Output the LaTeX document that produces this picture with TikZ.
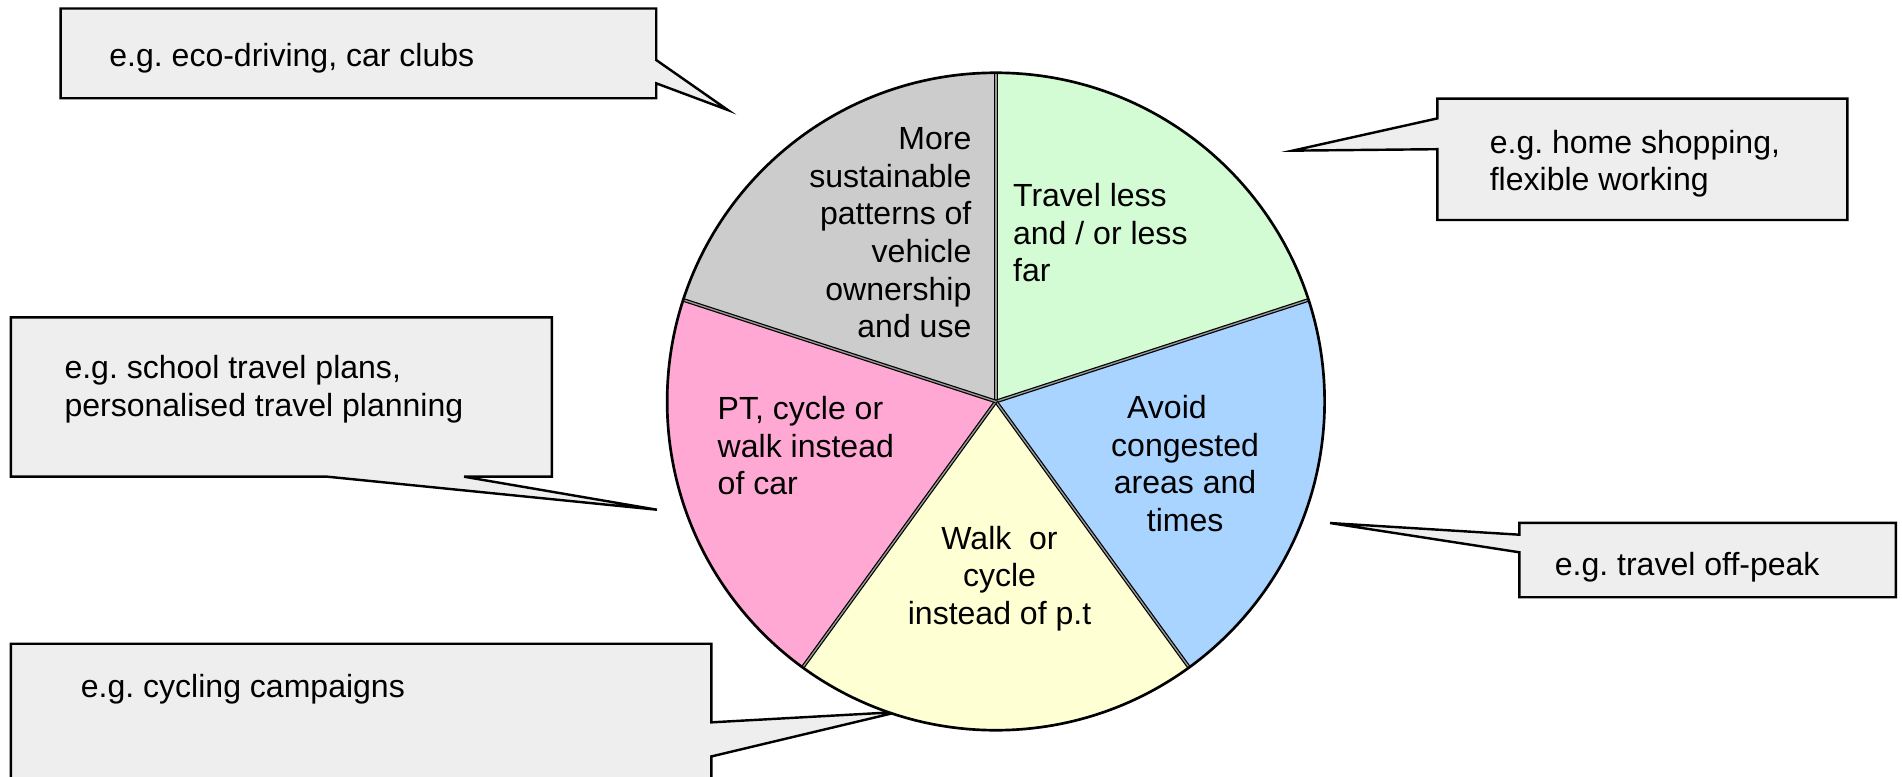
\documentclass[tikz,border=0pt]{standalone}
\usepackage{fontspec}
\setmainfont{Liberation Sans}
\frenchspacing
\definecolor{boxfill}{HTML}{EEEEEE}
\definecolor{sgray}{HTML}{CCCCCC}
\definecolor{sgreen}{HTML}{D4FCD4}
\definecolor{sblue}{HTML}{A8D4FF}
\definecolor{syellow}{HTML}{FFFFD4}
\definecolor{spink}{HTML}{FFA8D4}
\tikzset{
  callout/.style={draw=black, fill=boxfill, line width=2pt, line join=miter},
  txt/.style={inner sep=0pt, font=\fontsize{26.4}{31}\selectfont},
  divider/.style={line width=1pt, draw=black, double=black!40, double distance=1.1pt},
  rim/.style={draw=black, line width=2.2pt}
}
\begin{document}
\begin{tikzpicture}[x=1pt,y=1pt]
\frenchspacing
\useasboundingbox (0,0) rectangle (1568,640);
\begin{scope}
\clip (0,0) rectangle (1568,640);
% callout boxes
\draw[callout] (50,633) -- (541,633) -- (541,590.5) -- (600,549.3) -- (541,571.3) -- (541,559) -- (50,559) -- cycle;
\draw[callout] (1185,558.7) -- (1523,558.7) -- (1523,458.6) -- (1185,458.6) -- (1185,517) -- (1065.6,515.8) -- (1185,542.4) -- cycle;
\draw[callout] (9,378.3) -- (455,378.3) -- (455,247) -- (382.6,247) -- (541.5,219.8) -- (270,247) -- (9,247) -- cycle;
\draw[callout] (9,109.3) -- (586.5,109.3) -- (586.5,44.5) -- (740,53) -- (586.5,16.4) -- (586.5,-20) -- (9,-20) -- cycle;
\draw[callout] (1252.5,209) -- (1563,209) -- (1563,147.6) -- (1252.5,147.6) -- (1252.5,184.7) -- (1096.5,208.8) -- (1252.5,199.2) -- cycle;
\end{scope}
% pie
\coordinate (c) at (821,309);
\begin{scope}[shift={(c)}]
\fill[sgray]   (0,0) -- (90:271)  arc[start angle=90,  end angle=162, radius=271] -- cycle;
\fill[sgreen]  (0,0) -- (18:271)  arc[start angle=18,  end angle=90,  radius=271] -- cycle;
\fill[sblue]   (0,0) -- (-54:271) arc[start angle=-54, end angle=18,  radius=271] -- cycle;
\fill[syellow] (0,0) -- (-126:271) arc[start angle=-126, end angle=-54, radius=271] -- cycle;
\fill[spink]   (0,0) -- (162:271) arc[start angle=162, end angle=234, radius=271] -- cycle;
\coordinate (p90) at (90:271);
\coordinate (p18) at (18:271);
\coordinate (pm54) at (-54:271);
\coordinate (pm126) at (-126:271);
\coordinate (p162) at (162:271);
\end{scope}
\draw[divider] (c) -- (p90);
\draw[divider] (c) -- (p18);
\draw[divider] (c) -- (pm54);
\draw[divider] (c) -- (pm126);
\draw[divider] (c) -- (p162);
\draw[rim] (c) circle[radius=271];
% pie texts
\node[txt, anchor=east, align=right] (tgray) at (801,448) {More\\sustainable\\patterns of\\vehicle\\ownership\\and use};
\node[txt, anchor=west, align=left] (tgreen) at (835,448) {Travel less\\and / or less\\far};
\node[txt, align=center] (tblue) at (977,258) {Avoid\hspace*{30pt}\\congested\\areas and\\times};
\node[txt, align=center] (tyellow) at (824,163) {Walk\ \ or\\cycle\\instead of p.t};
\node[txt, anchor=west, align=left] (tpink) at (591.5,272.5) {PT, cycle or\\walk instead\\of car};
% callout texts
\node[txt, anchor=west] (t1) at (90,592) {e.g. eco-driving, car clubs};
\node[txt, anchor=west, align=left] (t2) at (1228,505) {e.g. home shopping,\\flexible working};
\node[txt, anchor=west, align=left] (t3) at (53,319) {e.g. school travel plans,\\personalised travel planning};
\node[txt, anchor=west] (t4) at (66.5,72) {e.g. cycling campaigns};
\node[txt, anchor=west] (t5) at (1281.6,172) {e.g. travel off-peak};
\end{tikzpicture}
\end{document}
